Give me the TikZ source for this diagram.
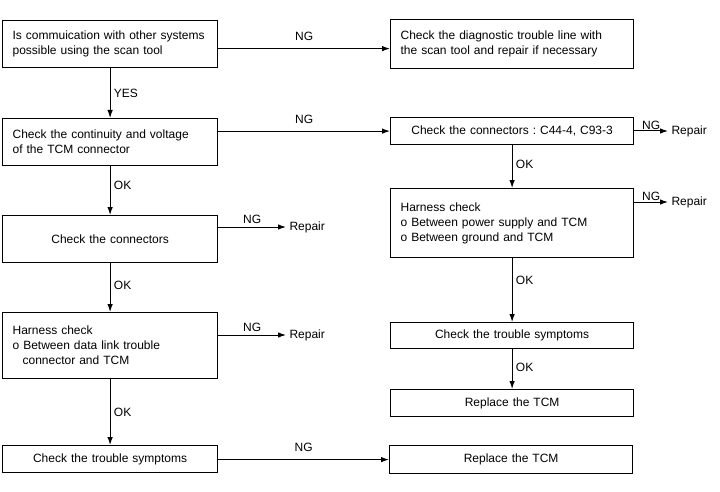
\documentclass[tikz,border=0pt]{standalone}
\usepackage{fontspec}
\setmainfont{Liberation Sans}
\frenchspacing
\usetikzlibrary{arrows,arrows.meta,shapes,positioning}
\tikzstyle{box}=[draw,line width=1.2pt,rectangle,inner xsep=10pt,inner ysep=0pt,anchor=north west,font=\fontsize{12}{15}\selectfont]
\tikzstyle{edge} = [draw,line width=1pt,->,>={Latex[length=8pt,width=5.5pt]}]
\tikzstyle{lbl}=[font=\fontsize{12}{14}\selectfont]

\begin{document}
\begin{tikzpicture}[x=1pt,y=-1pt]
  \useasboundingbox (0,0) rectangle (720,492);
  % left column
  \node[box,text width=195pt,minimum height=47pt,align=left] (is) at (2,20) {Is commuication with other systems\\possible using the scan tool};
  \node[box,text width=195pt,minimum height=47pt,align=left] (cont) at (2,118) {Check the continuity and voltage\\of the TCM connector};
  \node[box,text width=195pt,minimum height=47pt,align=center] (conn) at (2,215) {Check the connectors};
  \node[box,text width=195pt,minimum height=66pt,align=left] (harn) at (2,312) {Harness check\\o Between data link trouble\\\hspace*{10pt}connector and TCM};
  \node[box,text width=195pt,minimum height=27pt,align=center] (symp) at (2,445) {Check the trouble symptoms};
  % right column
  \node[box,text width=223pt,minimum height=49pt,align=left] (diag) at (390,19) {Check the diagnostic trouble line with\\the scan tool and repair if necessary};
  \node[box,text width=223pt,minimum height=27pt,align=center] (conn2) at (390,117) {Check the connectors : C44-4, C93-3};
  \node[box,text width=223pt,minimum height=69pt,align=left] (harn2) at (390,188) {Harness check\\o Between power supply and TCM\\o Between ground and TCM};
  \node[box,text width=223pt,minimum height=26pt,align=center] (symp2) at (390,322) {Check the trouble symptoms};
  \node[box,text width=223pt,minimum height=27pt,align=center] (repl) at (390,389) {Replace the TCM};
  \node[box,text width=223pt,minimum height=28pt,align=center] (repl2) at (389,445) {Replace the TCM};
  % repair ends
  \node[lbl,anchor=west] (rep1) at (286,227) {Repair};
  \node[lbl,anchor=west] (rep2) at (286,335) {Repair};
  \node[lbl,anchor=west] (rep3) at (668,131) {Repair};
  \node[lbl,anchor=west] (rep4) at (668,202) {Repair};
  % connectors
  \draw[edge] ([yshift=-4.5pt]is.east) -- node[lbl,above=4pt] {NG} ([yshift=-4.5pt]diag.west);
  \draw[edge] (is) -- node[lbl,right] {YES} (cont);
  \draw[edge] (cont.east |- conn2) -- node[lbl,above=4pt] {NG} (conn2);
  \draw[edge] (cont) -- node[lbl,right,pos=.4] {OK} (conn);
  \draw[edge] (conn.east |- rep1) -- node[lbl,above] {NG} (rep1);
  \draw[edge] (conn) -- node[lbl,right,pos=.45] {OK} (harn);
  \draw[edge] (harn.east |- rep2) -- node[lbl,above] {NG} (rep2);
  \draw[edge] (harn) -- node[lbl,right] {OK} (symp);
  \draw[edge] (symp.east |- repl2) -- node[lbl,above=4pt] {NG} (repl2);
  \draw[edge] (conn2) -- node[lbl,right,pos=.45] {OK} (harn2);
  \draw[edge] (conn2.east |- rep3) -- node[lbl,above,inner sep=1pt] {NG} (rep3);
  \draw[edge] (harn2.east |- rep4) -- node[lbl,above,inner sep=1pt] {NG} (rep4);
  \draw[edge] (harn2) -- node[lbl,right,pos=.35] {OK} (symp2);
  \draw[edge] (symp2) -- node[lbl,right,pos=.45] {OK} (repl);
\end{tikzpicture}
\end{document}
